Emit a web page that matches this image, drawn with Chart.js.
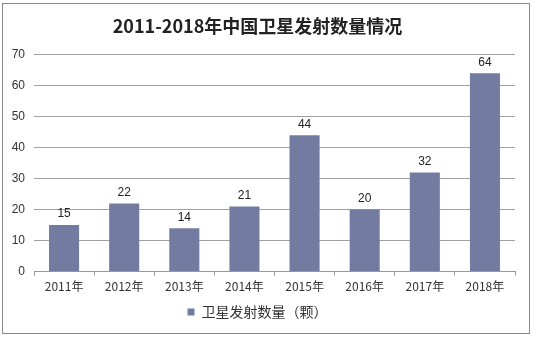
<!DOCTYPE html>
<html>
<head>
<meta charset="utf-8">
<script src="https://cdn.jsdelivr.net/npm/chart.js@4"></script>
<style>
  body { margin: 0; background: #fff; }
  #wrap { position: relative; width: 533px; height: 337px; }
  #frame { position: absolute; left: 2px; top: 3px; width: 526px; height: 329px; border: 1px solid #8a8a8a; pointer-events: none; }
</style>
</head>
<body>
<div id="wrap">
  <canvas id="myChart" width="533" height="337"></canvas>
  <div id="frame"></div>
</div>
<script>
const years = ["2011年", "2012年", "2013年", "2014年", "2015年", "2016年", "2017年", "2018年"];
const launches = [15, 22, 14, 21, 44, 20, 32, 64];
const seriesName = "卫星发射数量（颗）";
const titleText = "2011-2018年中国卫星发射数量情况";

const barColor = "rgb(113, 124, 160)";

// numbers over each bar
const valueLabels = {
    id: "valueLabels",
    afterDatasetsDraw(chart) {
        const ctx = chart.ctx;
        const meta = chart.getDatasetMeta(0);
        ctx.save();
        ctx.font = "12px 'Liberation Sans', Arial";
        ctx.fillStyle = "#222";
        ctx.textAlign = "center";
        ctx.textBaseline = "bottom";
        meta.data.forEach((bar, i) => {
            ctx.fillText(chart.data.datasets[0].data[i], bar.x, bar.y - 5);
        });
        ctx.restore();
    }
};

const data = {
    labels: years,
    datasets: [{
        label: seriesName,
        data: launches,
        backgroundColor: barColor,
        borderWidth: 0,
        barPercentage: 0.5,
        categoryPercentage: 1.0
    }]
};

const config = {
    type: "bar",
    data: data,
    options: {
        responsive: false,
        animation: false,
        layout: {
            padding: { left: 0, right: 18, top: 13, bottom: 8 }
        },
        plugins: {
            title: {
                display: true,
                text: titleText,
                color: "#222",
                font: { family: "'Noto Sans CJK SC'", size: 18, weight: "bold" },
                padding: { top: 2, bottom: 18 }
            },
            legend: {
                position: "bottom",
                labels: {
                    color: "#333",
                    font: { family: "'Noto Sans CJK SC'", size: 14 },
                    boxWidth: 7,
                    boxHeight: 7,
                    padding: 7
                }
            },
            tooltip: { enabled: false }
        },
        scales: {
            x: {
                offset: true,
                grid: {
                    display: true,
                    offset: true,
                    drawOnChartArea: false,
                    drawTicks: true,
                    tickLength: 4,
                    color: "#999"
                },
                border: { color: "#999" },
                ticks: {
                    color: "#333",
                    font: { family: "'Noto Sans CJK SC'", size: 12 },
                    padding: 4
                }
            },
            y: {
                min: 0,
                max: 70,
                afterFit(scale) { scale.width = 34; },
                grid: { color: "#a0a0a0", drawTicks: false },
                border: { display: false },
                ticks: {
                    stepSize: 10,
                    color: "#333",
                    font: { family: "'Liberation Sans', Arial", size: 12 },
                    padding: 9
                }
            }
        }
    },
    plugins: [valueLabels]
};

new Chart(document.getElementById("myChart"), config);
</script>
</body>
</html>
